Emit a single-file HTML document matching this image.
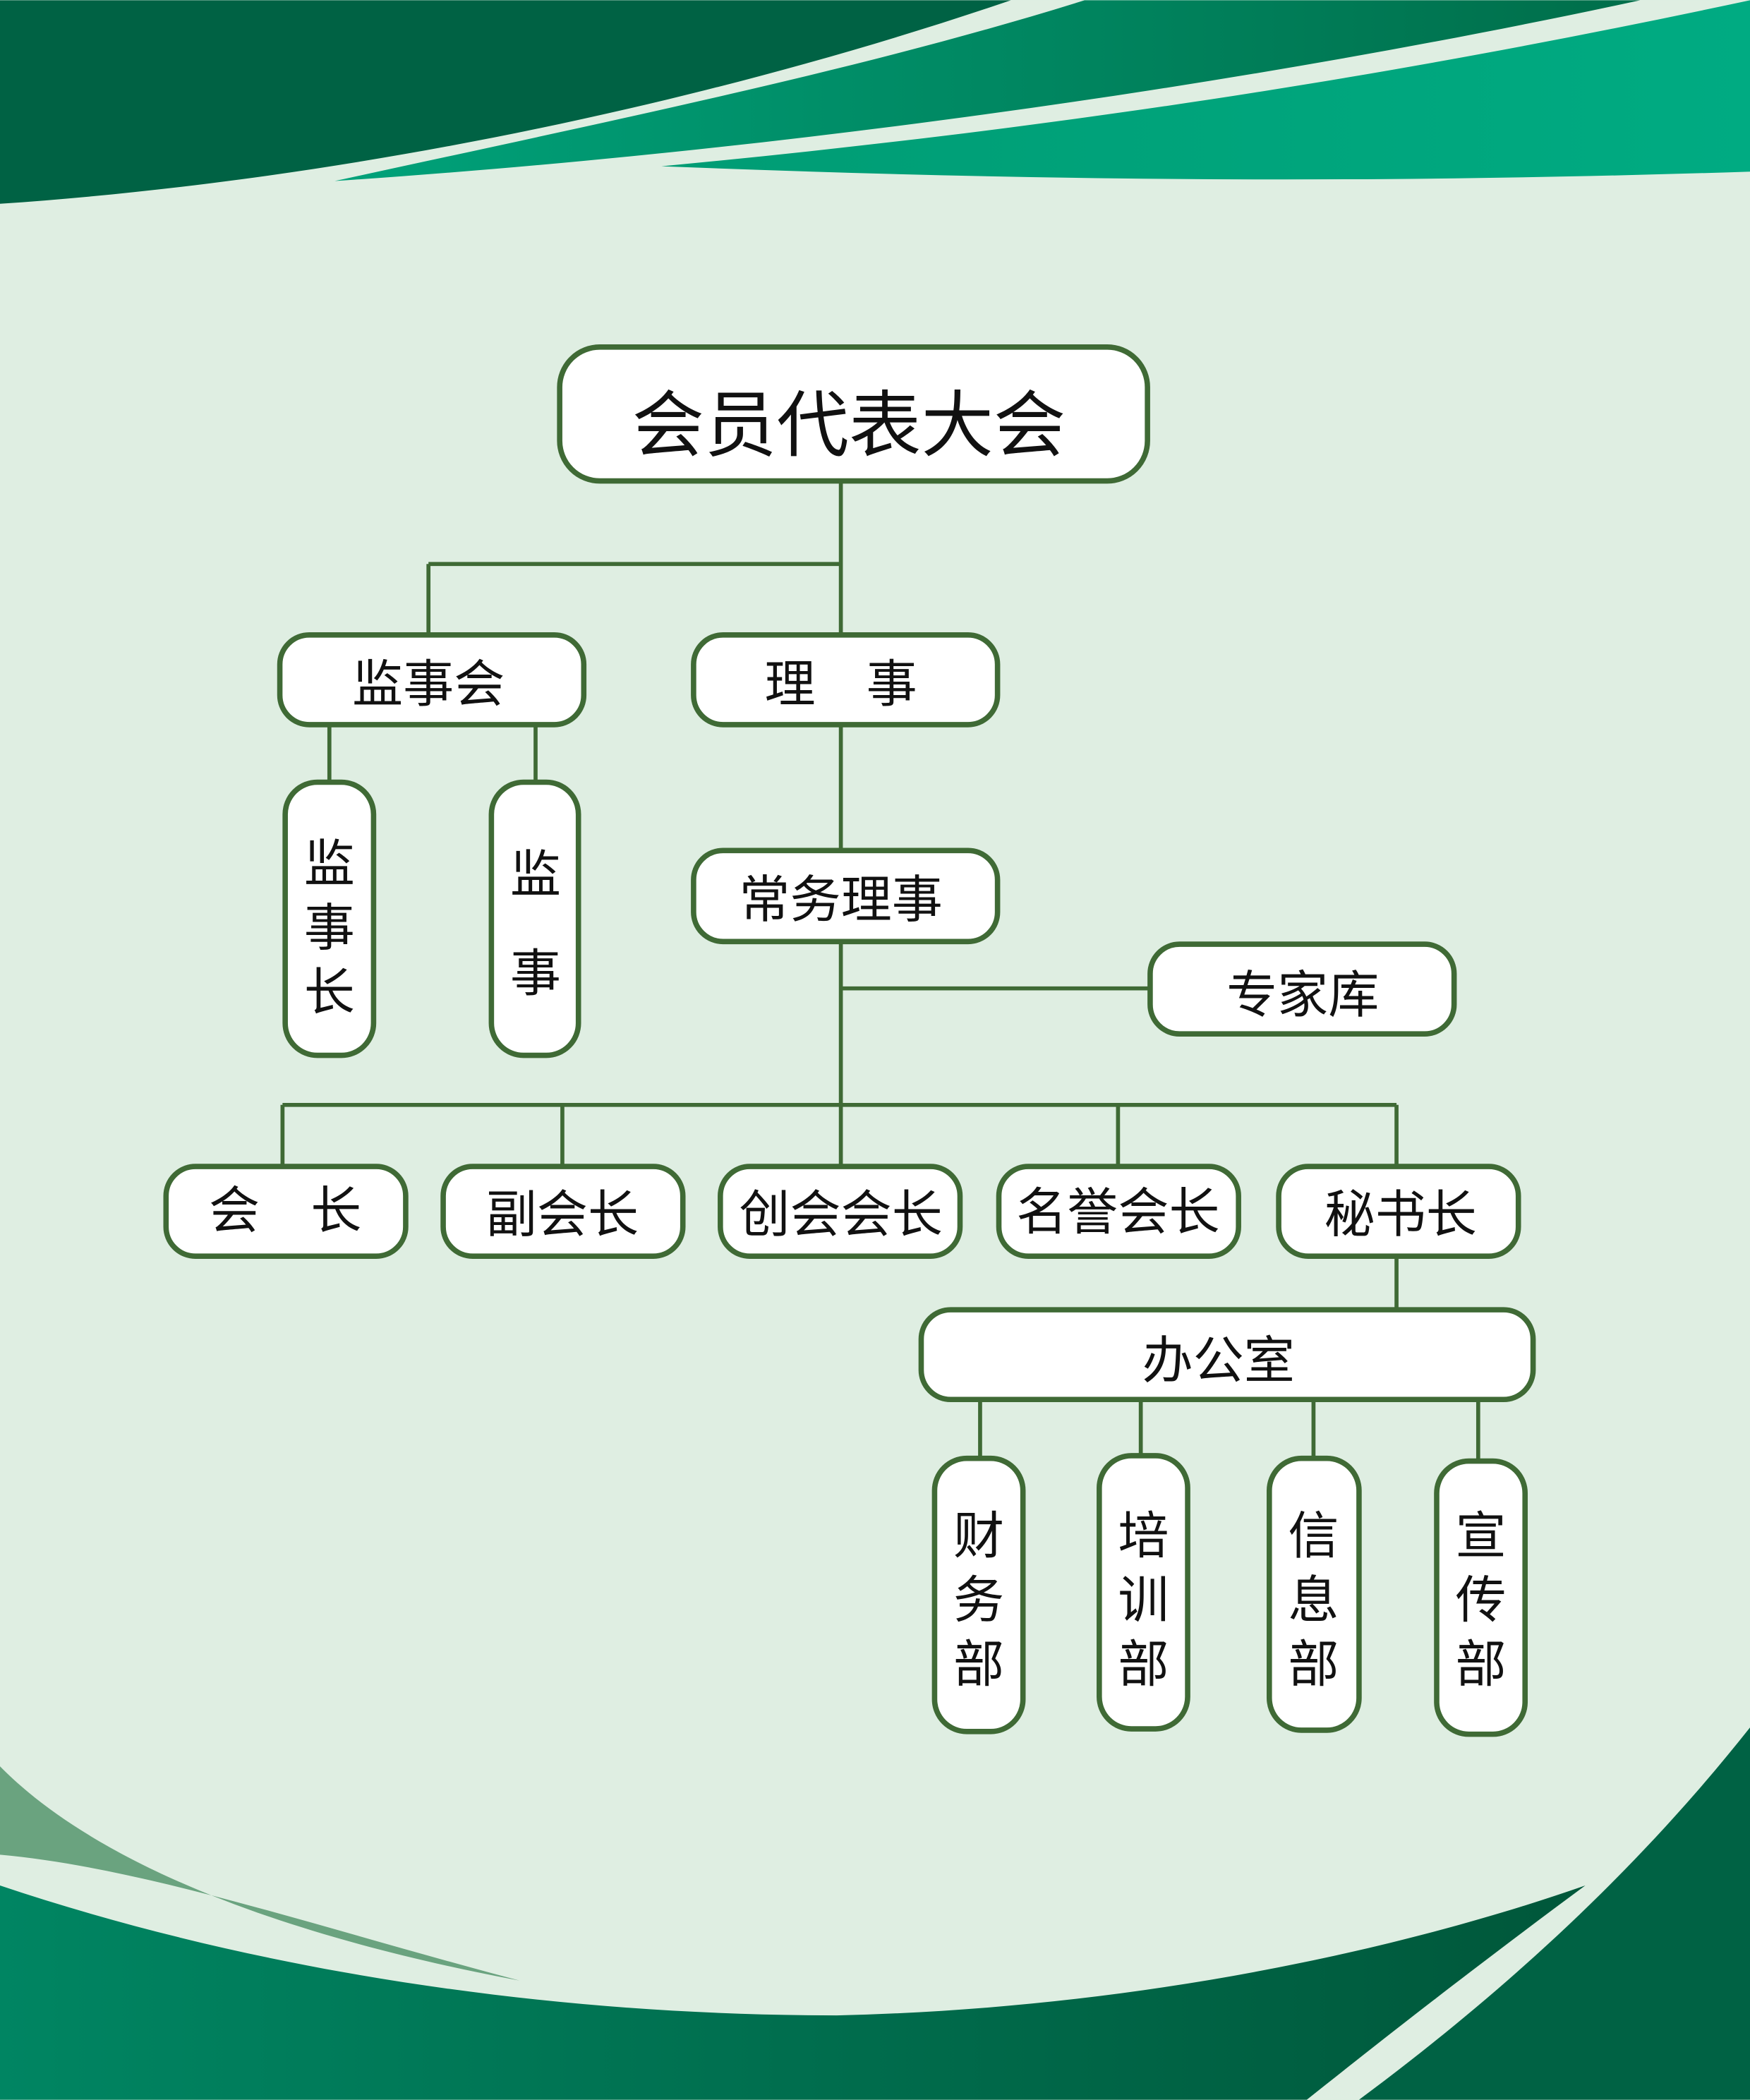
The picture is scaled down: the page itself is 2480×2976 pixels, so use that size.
<!DOCTYPE html>
<html><head><meta charset="utf-8"><style>
html,body{margin:0;padding:0;background:#dfeee2}
svg{display:block}
text{font-family:"Liberation Sans","Noto Sans CJK SC","WenQuanYi Zen Hei",sans-serif;fill:#111}
</style></head><body>
<svg width="2480" height="2976" viewBox="0 0 1307 1568" xmlns="http://www.w3.org/2000/svg">
<defs>
<linearGradient id="g1" x1="0" x2="1"><stop offset="0" stop-color="#00a27a"/><stop offset="1" stop-color="#006e4a"/></linearGradient>
<linearGradient id="g2" x1="0" x2="1"><stop offset="0" stop-color="#009c74"/><stop offset="1" stop-color="#00ab82"/></linearGradient>
<linearGradient id="g3" x1="0" x2="1"><stop offset="0" stop-color="#008562"/><stop offset="1" stop-color="#00573a"/></linearGradient>
</defs>
<rect width="1307" height="1568" fill="#dfeee2"/>
<!-- top -->
<path d="M0 0 L755 0 C520 80 250 135 0 152 Z" fill="#006244"/>
<path d="M810 0 L1225 0 C900 70 550 115 250 135 C480 85 650 50 810 0 Z" fill="url(#g1)"/>
<path d="M1307 0 L1307 128 C1000 138 750 134 494 124 C800 95 1050 55 1307 0 Z" fill="url(#g2)"/>
<!-- bottom -->
<path d="M0 1408 C200 1475 420 1505 625 1505 C850 1500 1050 1455 1184 1408 C1100 1470 1030 1525 976 1568 L0 1568 Z" fill="url(#g3)"/>
<path d="M0 1319 C60 1380 180 1440 388 1479 C240 1440 110 1395 0 1385 Z" fill="#6aa37f"/>
<path d="M1307 1290 C1220 1400 1120 1490 1015 1568 L1307 1568 Z" fill="#006244"/>
<!-- connectors -->
<g stroke="#3f6a35" stroke-width="3" fill="none">
<path d="M628 359 V474 M320 421 H628 M320 421 V474"/>
<path d="M246 541 V584 M400 541 V584"/>
<path d="M628 541 V635 M628 703 V825 M628 738 H859"/>
<path d="M211 825 H1043 M211 825 V871 M420 825 V871 M628 825 V871 M835 825 V871 M1043 825 V871"/>
<path d="M1043 938 V978"/>
<path d="M732 1045 V1089 M852 1045 V1087 M981 1045 V1089 M1104 1045 V1091"/>
</g>
<!-- nodes -->
<g fill="#fff" stroke="#3f6a35" stroke-width="4">
<rect x="418" y="259" width="439" height="100" rx="30"/>
<rect x="209" y="474" width="227" height="67" rx="22"/>
<rect x="518" y="474" width="227" height="67" rx="22"/>
<rect x="213" y="584" width="66" height="204" rx="24"/>
<rect x="367" y="584" width="65" height="204" rx="24"/>
<rect x="518" y="635" width="227" height="68" rx="22"/>
<rect x="859" y="705" width="227" height="67" rx="22"/>
<rect x="124" y="871" width="179" height="67" rx="22"/>
<rect x="331" y="871" width="179" height="67" rx="22"/>
<rect x="538" y="871" width="179" height="67" rx="22"/>
<rect x="746" y="871" width="179" height="67" rx="22"/>
<rect x="955" y="871" width="179" height="67" rx="22"/>
<rect x="688" y="978" width="457" height="67" rx="22"/>
<rect x="698" y="1089" width="66" height="204" rx="24"/>
<rect x="821" y="1087" width="66" height="204" rx="24"/>
<rect x="948" y="1089" width="67" height="203" rx="24"/>
<rect x="1073" y="1091" width="66" height="204" rx="24"/>
</g>
<g text-anchor="middle">
<text x="634" y="336" font-size="54">会员代表大会</text>
<text x="320" y="524" font-size="38">监事会</text>
<text x="628" y="524" font-size="38">理　事</text>
<text x="628" y="685" font-size="38">常务理事</text>
<text x="973" y="756" font-size="38">专家库</text>
<text x="213" y="917" font-size="38">会　长</text>
<text x="420" y="920" font-size="38">副会长</text>
<text x="628" y="920" font-size="38">创会会长</text>
<text x="835" y="918" font-size="38">名誉会长</text>
<text x="1046" y="920" font-size="38">秘书长</text>
<text x="910" y="1029" font-size="38">办公室</text>
<g font-size="38">
<text x="246" y="658">监</text><text x="246" y="706">事</text><text x="246" y="754">长</text>
<text x="400" y="666">监</text><text x="400" y="740">事</text>
<text x="731" y="1160">财</text><text x="731" y="1208">务</text><text x="731" y="1256">部</text>
<text x="854" y="1160">培</text><text x="854" y="1208">训</text><text x="854" y="1256">部</text>
<text x="981" y="1160">信</text><text x="981" y="1208">息</text><text x="981" y="1256">部</text>
<text x="1106" y="1160">宣</text><text x="1106" y="1208">传</text><text x="1106" y="1256">部</text>
</g>
</g>
</svg>
</body></html>
